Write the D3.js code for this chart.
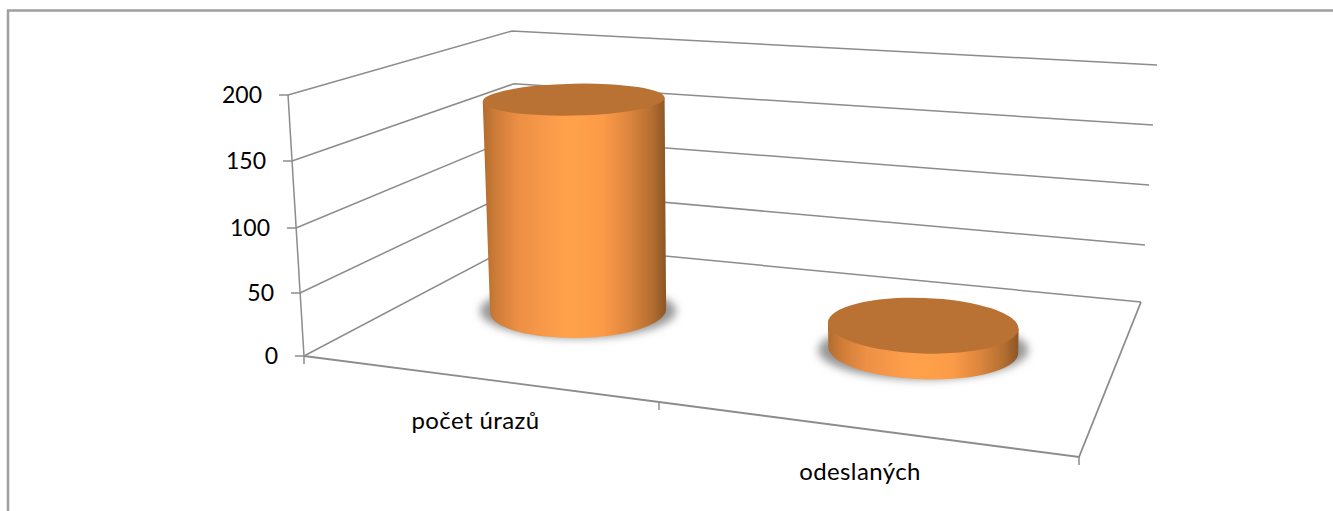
<!DOCTYPE html>
<html>
<head>
<meta charset="utf-8">
<script src="https://cdn.jsdelivr.net/npm/d3@7"></script>
<style>
  body { margin: 0; background: #fff; }
  text { font-family: Lato, sans-serif; fill: #000; }
</style>
</head>
<body>
<div class="chart"></div>
<script>
//Data
var categories = ["počet úrazů", "odeslaných"];
var values = [181, 21];
var yTicks = [0, 50, 100, 150, 200];

//Width and height
var w = 1333;
var h = 511;

//Value scales along the vertical edges of the 3D box
var frontX = d3.scaleLinear().domain([0, 200]).range([304, 288]);
var frontY = d3.scaleLinear().domain(yTicks).range([356, 293, 228, 161, 95]);
var backX = d3.scaleLinear().domain([0, 200]).range([520, 512]);
var backY = d3.scaleLinear().domain([0, 200]).range([242, 31]);
var rightX = d3.scaleLinear().domain([0, 200]).range([1141, 1157]);
var rightY = d3.scaleLinear().domain(yTicks).range([302, 245, 185, 125, 65]);

//Category scales along the front edge of the floor (ticks sit between categories)
var edgeX = d3.scaleLinear().domain([0, 1, 2]).range([304, 659, 1079]);
var edgeY = d3.scaleLinear().domain([0, 1, 2]).range([356, 402, 457]);

//Where the cylinders stand on the floor
var floorT = d3.scalePoint().domain(categories).range([0.225, 0.725]);
var depth = 0.55;
var floorLeft = d3.interpolateArray([304, 356], [520, 242])(depth);
var floorRight = d3.interpolateArray([1079, 457], [1141, 302])(depth);
var heightScale = d3.scaleLinear().domain([0, 200]).range([0, 233.5]);

//Perspective corrections of the cylinders
var lean = d3.scaleLinear().domain([0, 1]).range([-0.03, 0.01]);
var ryScale = d3.scaleLinear().domain([100, 320]).range([16, 27.5]);
var rxScale = d3.scaleLinear().domain([0.225, 0.725]).range([88, 95]);
var tiltScale = d3.scaleLinear().domain([0.225, 0.725]).range([-1.2, 2]);

//Create SVG element
var svg = d3.select(".chart")
            .append("svg")
            .attr("width", w)
            .attr("height", h)
            .style("display", "block");

var defs = svg.append("defs");

var grad = defs.append("linearGradient").attr("id", "side");
[[0, "#b06c2e"], [0.07, "#cd7c38"], [0.2, "#ee9045"], [0.45, "#ffa14b"],
 [0.65, "#fd9c48"], [0.8, "#dc853e"], [0.92, "#b46f30"], [1, "#8c5526"]].forEach(function(s) {
  grad.append("stop").attr("offset", s[0]).attr("stop-color", s[1]);
});

defs.append("filter")
    .attr("id", "blur")
    .attr("x", "-20%").attr("y", "-40%").attr("width", "140%").attr("height", "180%")
    .append("feGaussianBlur")
    .attr("stdDeviation", 4);

//Chart frame, only the top and left are inside the picture
svg.append("path")
   .attr("d", "M8,511V10.5H1333")
   .attr("fill", "none")
   .attr("stroke", "#a0a0a0")
   .attr("stroke-width", 2.5);

var lineColor = "#8c8c8c";

//Gridlines on the left and back walls
var grid = svg.append("g").attr("stroke", lineColor).attr("fill", "none").attr("stroke-width", 1.5);

grid.selectAll("path.grid")
    .data(yTicks)
    .enter()
    .append("path")
    .attr("class", "grid")
    .attr("d", function(d) {
      return d3.line()([[frontX(d), frontY(d)], [backX(d), backY(d)], [rightX(d), rightY(d)]]);
    });

//Value axis line and ticks
grid.append("path")
    .attr("d", d3.line()([[frontX(200), frontY(200)], [frontX(0), frontY(0)]]));

grid.selectAll("line.ytick")
    .data(yTicks)
    .enter()
    .append("line")
    .attr("class", "ytick")
    .attr("x1", function(d) { return frontX(d) - 9; })
    .attr("x2", function(d) { return frontX(d); })
    .attr("y1", function(d) { return frontY(d); })
    .attr("y2", function(d) { return frontY(d); });

//Floor front and right edges
grid.append("path")
    .attr("stroke-width", 1.8)
    .attr("d", d3.line()([[edgeX(0), edgeY(0)], [edgeX(1), edgeY(1)], [edgeX(2), edgeY(2)], [rightX(0), rightY(0)]]));

grid.selectAll("line.xtick")
    .data([0, 1, 2])
    .enter()
    .append("line")
    .attr("class", "xtick")
    .attr("x1", function(d) { return edgeX(d); })
    .attr("x2", function(d) { return edgeX(d); })
    .attr("y1", function(d) { return edgeY(d); })
    .attr("y2", function(d) { return edgeY(d) + 8; });

//Work out the ellipses of each cylinder from its value
var cylinders = categories.map(function(c, i) {
  var t = floorT(c);
  var bx = floorLeft[0] + (floorRight[0] - floorLeft[0]) * t;
  var by = floorLeft[1] + (floorRight[1] - floorLeft[1]) * t;
  var px = heightScale(values[i]);
  var tx = bx + lean(t) * px;
  var ty = by - px;
  return {
    tilt: tiltScale(t),
    bx: bx, by: by, brx: rxScale(t), bry: ryScale(by),
    tx: tx, ty: ty, trx: rxScale(t) + px * 0.014, try_: ryScale(ty)
  };
});

//Blurred shadows on the floor
svg.selectAll("ellipse.shadow")
   .data(cylinders)
   .enter()
   .append("ellipse")
   .attr("class", "shadow")
   .attr("cx", function(d) { return d.bx; })
   .attr("cy", function(d) { return d.by; })
   .attr("rx", function(d) { return d.brx + 10; })
   .attr("ry", function(d) { return d.bry; })
   .attr("fill", "#969696")
   .attr("filter", "url(#blur)");

//Cylinder sides
svg.selectAll("path.side")
   .data(cylinders)
   .enter()
   .append("path")
   .attr("class", "side")
   .attr("fill", "url(#side)")
   .attr("d", function(d) {
     var a = d.tilt * Math.PI / 180;
     var c = Math.cos(a), s = Math.sin(a);
     return "M" + (d.tx - d.trx * c) + "," + (d.ty - d.trx * s) +
            "L" + (d.bx - d.brx * c) + "," + (d.by - d.brx * s) +
            "A" + d.brx + "," + d.bry + " " + d.tilt + " 0 0 " + (d.bx + d.brx * c) + "," + (d.by + d.brx * s) +
            "L" + (d.tx + d.trx * c) + "," + (d.ty + d.trx * s) + "Z";
   });

//Cylinder tops
svg.selectAll("ellipse.top")
   .data(cylinders)
   .enter()
   .append("ellipse")
   .attr("class", "top")
   .attr("rx", function(d) { return d.trx; })
   .attr("ry", function(d) { return d.try_; })
   .attr("transform", function(d) {
     return "translate(" + d.tx + "," + d.ty + ") rotate(" + d.tilt + ")";
   })
   .attr("fill", "#b97233");

//Value labels
svg.selectAll("text.ylabel")
   .data(yTicks)
   .enter()
   .append("text")
   .attr("class", "ylabel")
   .attr("x", function(d) { return frontX(d) - 26; })
   .attr("y", function(d) { return frontY(d) + 8; })
   .attr("text-anchor", "end")
   .attr("font-size", 23)
   .text(function(d) { return d; });

//Category labels
svg.selectAll("text.xlabel")
   .data(categories)
   .enter()
   .append("text")
   .attr("class", "xlabel")
   .attr("x", function(d, i) { return edgeX(i + 0.5) - 6 - i * 3; })
   .attr("y", function(d, i) { return edgeY(i + 0.5) + 50; })
   .attr("text-anchor", "middle")
   .attr("font-size", 24)
   .attr("letter-spacing", 0.4)
   .text(function(d) { return d; });
</script>
</body>
</html>
